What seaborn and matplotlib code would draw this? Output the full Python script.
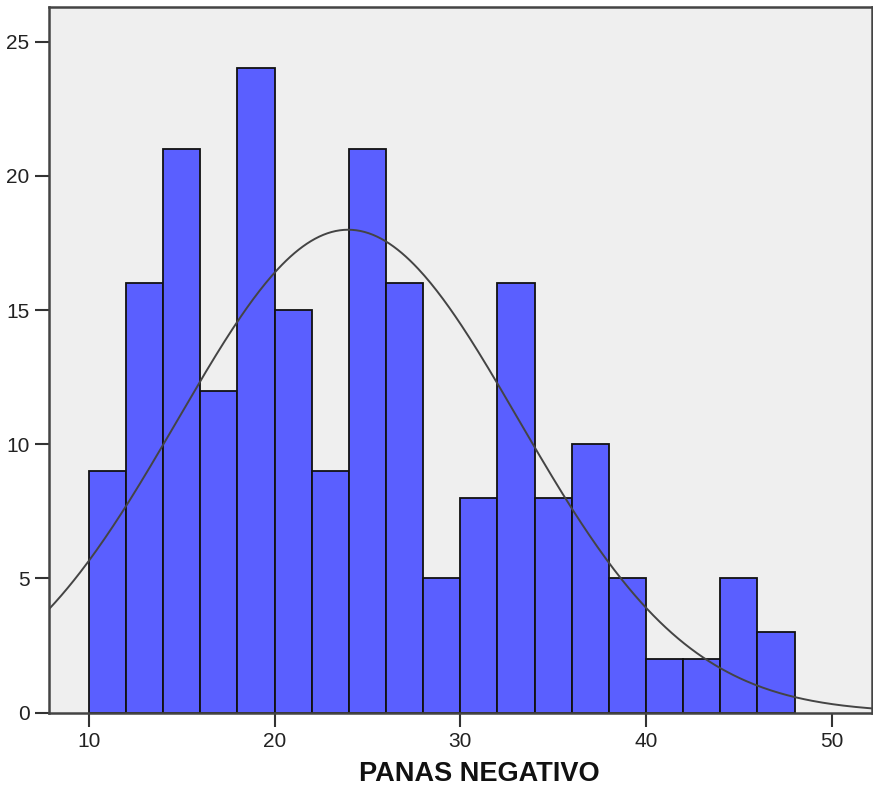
import numpy as np
import pandas as pd
import matplotlib
matplotlib.use("Agg")
import matplotlib.pyplot as plt
import seaborn as sns

# Data
bin_left = [10, 12, 14, 16, 18, 20, 22, 24, 26, 28, 30, 32, 34, 36, 38, 40, 42, 44, 46]
counts = [9, 16, 21, 12, 24, 15, 9, 21, 16, 5, 8, 16, 8, 10, 5, 2, 2, 5, 3]
bin_width = 2
curve_mean = 23.96
curve_sd = 9.18
x_label = "PANAS NEGATIVO"
x_ticks = [10, 20, 30, 40, 50]
y_ticks = [0, 5, 10, 15, 20, 25]

sns.set_theme(style="white")
plt.rcParams['font.family'] = ['Liberation Sans', 'DejaVu Sans']

fig = plt.figure(figsize=(8.73, 7.89), dpi=100)
ax = fig.add_axes([49 / 873, 76.3 / 789, 823 / 873, 705.2 / 789])
ax.set_facecolor("#efefef")

df = pd.DataFrame({"x": np.array(bin_left) + bin_width / 2, "n": counts})
edges = list(bin_left) + [bin_left[-1] + bin_width]
sns.histplot(data=df, x="x", weights="n", bins=edges, ax=ax,
             color="#5a5fff", alpha=1.0, edgecolor="#111111", linewidth=1.3)

xmin, xmax = 7.85, 52.17
xs = np.linspace(xmin, xmax, 400)
total = sum(counts)
ys = total * bin_width / (curve_sd * np.sqrt(2 * np.pi)) * np.exp(-0.5 * ((xs - curve_mean) / curve_sd) ** 2)
sns.lineplot(x=xs, y=ys, ax=ax, color="#444444", linewidth=1.4)

ax.set_xlim(xmin, xmax)
ax.set_ylim(0, 26.27)
ax.set_xticks(x_ticks)
ax.set_yticks(y_ticks)
ax.tick_params(axis="both", direction="out", length=10, width=1.5, color="#333333",
               labelsize=15, labelcolor="#222222", pad=4, bottom=True, left=True)
ax.set_xlabel(x_label, fontsize=19.5, fontweight="bold", color="#111111")
ax.xaxis.set_label_coords(0.5225, -0.087)
ax.xaxis.label.set_va("center")
ax.set_ylabel("")
for s in ax.spines.values():
    s.set_visible(True)
    s.set_color("#444444")
    s.set_linewidth(1.8)

fig.savefig("out.png", dpi=100)
